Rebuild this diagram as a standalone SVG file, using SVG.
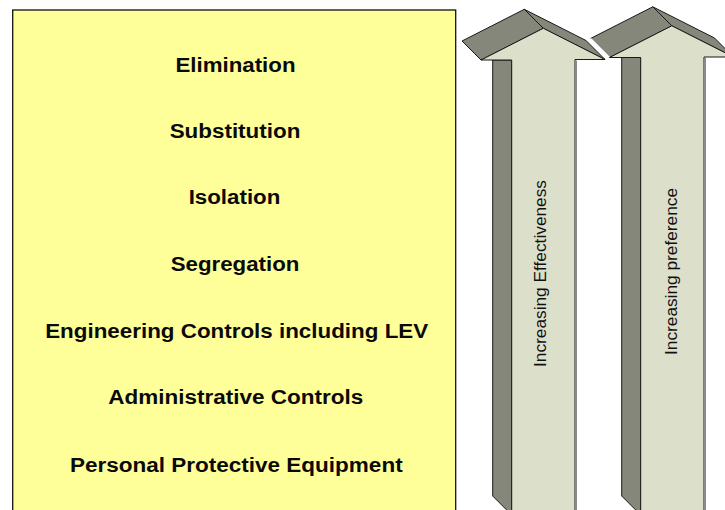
<svg xmlns="http://www.w3.org/2000/svg" width="725" height="510" viewBox="0 0 725 510">
<style>
.box{fill:#ffff99;stroke:#111;stroke-width:1.3}
.lbl{font-family:"Liberation Sans",Arial,sans-serif;font-weight:bold;font-size:19.5px;fill:#0a0a0a;text-anchor:middle}
.front{fill:#dcdfca;stroke:#1a1a1a;stroke-width:1}
.side{fill:#85877a;stroke:#1a1a1a;stroke-width:1;stroke-linejoin:round}
.rlbl{font-family:"Liberation Sans",Arial,sans-serif;font-size:16px;fill:#111;text-anchor:middle}
.shade{stroke:#8a8a8a;stroke-width:2}
</style>
<rect width="725" height="510" fill="#ffffff"/>
<g id="hierarchy">
<rect class="box" x="12.7" y="10" width="443" height="520"/>
<text class="lbl" x="235.5" y="71.6" textLength="120" lengthAdjust="spacingAndGlyphs">Elimination</text>
<text class="lbl" x="235" y="137.9" textLength="130.7" lengthAdjust="spacingAndGlyphs">Substitution</text>
<text class="lbl" x="234.5" y="204.4" textLength="91.7" lengthAdjust="spacingAndGlyphs">Isolation</text>
<text class="lbl" x="235" y="271.1" textLength="128.7" lengthAdjust="spacingAndGlyphs">Segregation</text>
<text class="lbl" x="236.7" y="337.6" textLength="383" lengthAdjust="spacingAndGlyphs">Engineering Controls including LEV</text>
<text class="lbl" x="235.8" y="404.4" textLength="255" lengthAdjust="spacingAndGlyphs">Administrative Controls</text>
<text class="lbl" x="236.3" y="471.6" textLength="332.7" lengthAdjust="spacingAndGlyphs">Personal Protective Equipment</text>
</g>
<g id="arrow-effectiveness">
<polygon class="side" points="481,60 543.3,28.3 524.3,9.3 462,41"/>
<polygon class="side" points="543.3,28.3 605,59.5 586,40.5 524.3,9.3"/>
<polygon class="side" points="492.7,60 511.7,60 511.7,515 492.7,496"/>
<polygon class="front" points="481,60 543.3,28.3 605,59.5 575,59.5 575,515 511.7,515 511.7,60"/>
<line class="shade" x1="576" y1="60.5" x2="576" y2="515"/>
<text class="rlbl" transform="translate(546,273.5) rotate(-90)" textLength="187" lengthAdjust="spacingAndGlyphs">Increasing Effectiveness</text>
</g>
<g id="arrow-preference">
<polygon class="side" points="609.5,57.5 671.8,25.8 652.8,6.8 590.5,38.5"/>
<polygon class="side" points="671.8,25.8 733.5,57 714.5,38 652.8,6.8"/>
<line x1="590.5" y1="38.5" x2="609.5" y2="57.5" stroke="#ffffff" stroke-width="1.5"/>
<polygon class="side" points="621.7,57.5 640.7,57.5 640.7,515 621.7,496"/>
<polygon class="front" points="609.5,57.5 671.8,25.8 733.5,57 704,57 704,515 640.7,515 640.7,57.5"/>
<line class="shade" x1="705" y1="58" x2="705" y2="515"/>
<text class="rlbl" transform="translate(677,271.5) rotate(-90)" textLength="167" lengthAdjust="spacingAndGlyphs">Increasing preference</text>
</g>
<g id="connectors"></g>
</svg>
